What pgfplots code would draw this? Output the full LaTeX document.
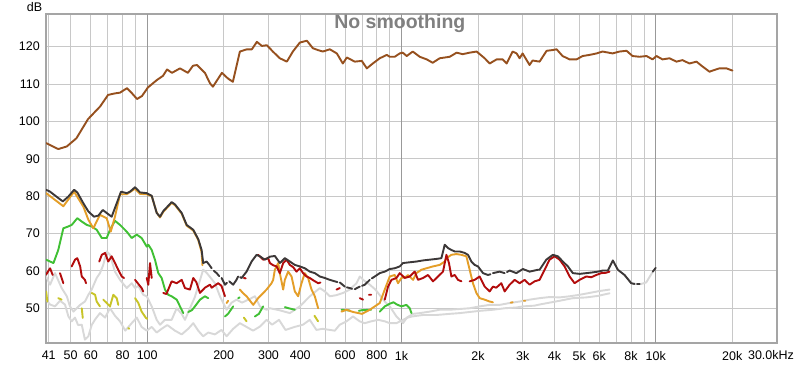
\documentclass[border=0pt]{standalone}
\usepackage{fontspec}
\setmainfont{Liberation Sans}
\usepackage{pgfplots}
\pgfplotsset{compat=1.18}
\definecolor{cbrown}{RGB}{150,80,30}
\definecolor{cblack}{RGB}{60,56,56}
\definecolor{corange}{RGB}{228,158,40}
\definecolor{cred}{RGB}{178,12,12}
\definecolor{cgreen}{RGB}{64,192,52}
\definecolor{cyellow}{RGB}{200,196,40}
\definecolor{cgray}{RGB}{216,216,216}
\definecolor{cgrid}{RGB}{200,200,200}
\definecolor{cframe}{RGB}{165,165,165}
\begin{document}
\begin{tikzpicture}
\useasboundingbox (0pt,0pt) rectangle (800pt,364pt);
\fill[white] (0pt,0pt) rectangle (800pt,364pt);
\begin{axis}[
  at={(46pt,21pt)}, anchor=south west,
  scale only axis, width=731pt, height=329pt,
  xmode=log, xmin=40, xmax=30000, ymin=40.7, ymax=128.75,
  unbounded coords=jump,
  axis line style={draw=cframe, line width=1.6},
  grid=major, major grid style={draw=cgrid, line width=0.8},
  major tick length=0pt,
  xtick={41,50,60,70,80,90,100,200,300,400,500,600,700,800,900,1000,2000,3000,4000,5000,6000,7000,8000,9000,10000,20000,30000},
  xticklabels={41,50,60,,80,,100,200,300,400,,600,,800,,1k,2k,3k,4k,5k,6k,,8k,,10k,20k,},
  ytick={50,60,70,80,90,100,110,120},
  yticklabels={50,60,70,80,90,100,110,120},
  extra x ticks={100,1000,10000}, extra x tick labels={},
  extra x tick style={grid=major, major grid style={draw=gray!80, line width=0.9}},
  ticklabel style={font=\fontsize{12.5}{14}\selectfont, inner sep=0pt},
  xticklabel style={anchor=north, yshift=-8pt},
  yticklabel style={anchor=east, xshift=-6pt},
  every axis plot/.append style={line width=1.9, line join=round, line cap=round, mark=none},
]
% light gray upper
\addplot[cgray] coordinates {(40.05,58.5)(41.5,56.3)(43.4,59.4)(46.1,55.4)(48.3,53.2)(49.7,50.5)(51.3,49.1)(54.5,50.9)(56.9,51.8)(58.7,53.6)(60.5,55.0)(63.3,58.1)(65.2,59.4)(67.2,61.6)(69.3,65.2)(71.4,64.3)(74.7,59.8)(78.2,57.6)(83.1,55.4)(86.9,56.7)(89.6,55.4)(92.3,56.0)(96.5,53.6)(99.6,53.2)(104.2,50.5)(109,46.9)(112.3,45.6)(117.5,46.9)(124.8,46.9)(130.6,50.0)(136.7,48.5)(140.8,46.9)(147.3,50)(154,53)(161.3,57.5)(166,60.3)(171.3,59.5)(184.7,56.7)(193.3,53.2)(205.3,49.6)(214.8,51.5)(224.7,52.3)(236,51.5)(253.5,52.5)(265.2,53.2)(277.5,50.5)(294.8,49.6)(303.8,50.0)(330,49.5)(364.1,48.7)(398.5,50.5)(436.2,53.2)(477.5,55.4)(499.6,54.5)(522.7,53.2)(555,53.5)(589.6,54.1)(626.6,55.0)(665.7,56.7)(685.9,58.5)(710,57.5)(750.9,56.3)(790,55.0)(821.8,53.5)(859.8,51.8)(899.6,50.5)(955.7,47.8)(1014.6,46.0)(1050,47.5)(1111,48.5)(1180,48.7)(1292,49.1)(1414,49.6)(1548,49.6)(1695,49.8)(1855,50.0)(2031,50.5)(2223,50.9)(2434,50.9)(2664,51.4)(2916,51.8)(3192,52.3)(3494,52.7)(3825,53.0)(4188,52.9)(4585,53.2)(5018,53.6)(5495,54.1)(6000,54.6)(6584,55.0)};
% light gray lower
\addplot[cgray] coordinates {(40.05,52.3)(41.5,51.0)(43.4,50.5)(45.4,52.0)(47.5,51.0)(49.0,47.8)(50.5,46.5)(52.0,47.5)(53.5,45.5)(55.3,45.6)(56.9,41.6)(58.7,42.5)(60.5,45.5)(62.4,47.0)(65.2,48.7)(68.3,47.5)(71.4,50.0)(74.7,48.0)(78.2,46.5)(82,44.0)(86.9,46.0)(91.0,47.5)(95.1,45.0)(99.6,44.0)(104.2,45.0)(109,43.5)(114,44.5)(120,45.5)(128.6,44.0)(136.7,43.0)(145,44.5)(151.8,46.0)(158.8,44.0)(166,42.5)(173.8,43.5)(184.7,43.0)(196,44.2)(205.3,42.5)(217.9,44.5)(231.5,46.0)(246,45.0)(261,44.0)(277.5,45.1)(294.8,46.9)(310,45.6)(330,46.9)(350,44.2)(380,45.0)(410,45.6)(436,46.9)(463,44.2)(490,44.5)(522.7,44.2)(547,44.0)(572,45.6)(608,46.5)(645,47.8)(685,46.5)(717,46.0)(760,46.5)(810,46.9)(860,46.5)(900,46.0)(955,46.0)(1014,46.9)(1060,47.5)(1100,47.8)(1216,48.2)(1373,48.2)(1548,48.5)(1695,48.7)(1855,49.0)(2031,49.3)(2290,49.6)(2547,50.0)(2830,50.2)(3004,50.5)(3339,50.7)(3494,51.0)(3825,51.5)(4188,52.0)(4723,52.7)(5333,52.9)(5924,53.3)(6584,54.0)};
% light gray high frequency
\addplot[cgray] coordinates {(7541,58.9)(8013,56.7)(8382,56.5)(8770,56.5)(9178,56.9)(9741,59.8)};
% yellow
\addplot[cyellow] coordinates {(40.05,54.5)(40.5,51.8)(41,nan)(44.7,52.7)(46.1,52.3)(47,nan)(55.3,50.0)(55.8,47.4)(57,nan)(60.5,54.1)(62.4,53.6)(63.3,51.8)(65.2,50.5)(66,nan)(67.2,52.3)(69.3,51.4)(71.4,50.5)(73.6,53.6)(75.9,52.7)(77.0,50.9)(80,nan)(84.3,44.7)(85,44.5)(87,nan)(89.6,52.7)(92.3,51.4)(95.1,49.1)(98.9,47.4)(100,47.2)(101,nan)(240,47.5)(246,46.5)(250,nan)(455,48.0)(470,46.5)};
% green
\addplot[cgreen] coordinates {(40.05,63.0)(41.5,62.5)(42.8,62.1)(44.7,65.6)(46.8,71.4)(49.0,71.9)(50.5,72.3)(53.1,74.1)(55.3,73.2)(57.9,72.3)(60.5,71.9)(63.3,71.0)(66.3,68.8)(69.3,68.8)(71.4,71.0)(74.7,73.4)(78.2,72.3)(83.1,70.5)(86.9,68.8)(91.0,69.7)(95.1,68.8)(99.6,66.5)(101,67.0)(104.2,65.6)(107.3,63.0)(110.6,59.4)(114,58.1)(117.5,55.0)(121,53.6)(124.8,53.2)(130.6,52.3)(134.6,50.5)(138.7,48.7)(141,nan)(145,49)(150,49.5)(154.1,50.5)(161.3,52.3)(168.7,53.2)(173.8,52.7)(180,nan)(202.2,47.8)(208,48.5)(217.9,50.5)(222,nan)(228,52.7)(231,52.9)(240,nan)(265.2,47.8)(275,48.5)(285.9,50.5)(300,nan)(347.9,50.3)(360,50.0)(380.9,49.6)(400,nan)(581.2,49.6)(600,49.5)(626.6,49.4)(650,nan)(680,49.3)(700,49.5)(760,49.6)(790,nan)(821.8,49.1)(859.8,50.5)(899.6,51.2)(930,51.6)(960,51.0)(1000,50.5)(1046,50.9)(1078,50.0)(1095,48.7)};
% orange
\addplot[corange] coordinates {(40.05,80.8)(46.8,77.3)(51.6,81.2)(56.1,77.2)(58.7,73.7)(61.4,71.4)(65.2,75.0)(69.3,74.1)(71.9,70.5)(74.7,74.5)(78.2,80.5)(83.1,80.5)(89.6,82.0)(93.7,80.6)(99.6,80.5)(104.2,80.0)(109,75.6)(112.3,74.3)(115.7,75.8)(124.8,78.2)(128.6,77.6)(136.7,75.3)(143,72.1)(151.8,70.8)(158.8,68.3)(163.7,65.0)(165,61.5)(167,nan)(205.3,51.4)(208.3,52.0)(215,nan)(231.5,55.0)(238.5,54.0)(246,53.2)(261.2,50.9)(273.2,52.7)(294.8,55.0)(308.5,56.7)(313,57.6)(317.8,60.3)(327.5,62.1)(332.5,59.4)(342.6,55.0)(347.9,57.6)(358.5,59.8)(369.7,58.5)(380.9,54.5)(392.5,53.2)(404.6,56.7)(416.9,59.4)(429.5,58.1)(442.9,55.0)(456.4,53.2)(470.3,50.0)(500,nan)(581.2,49.1)(608.1,49.6)(645.5,49.0)(700,48.5)(750.9,49.6)(821.8,51.4)(859.8,55.0)(899.6,58.5)(941.1,58.9)(969.7,56.7)(1000,58.1)(1046,58.5)(1061,58.9)(1111,57.6)(1145,59.4)(1198,60.3)(1254,60.7)(1331,61.2)(1414,61.6)(1480,62.5)(1503,63.4)(1572,64.3)(1645,64.5)(1721,64.3)(1801,63.9)(1855,60.3)(1911,56.7)(1971,54.1)(2031,52.7)(2125,52.3)(2223,51.8)(2290,51.6)(2400,nan)(2690,51.5)(2740,51.6)(2800,nan)(3030,52.0)(3070,52.0)};
% red
\addplot[cred] coordinates {(40.05,59.0)(41.5,60.7)(42.5,58.9)(43.5,nan)(45.4,59.4)(46.8,56.7)(48,nan)(50.5,61.2)(52.0,63.0)(53.1,63.4)(54.5,61.2)(55.3,58.5)(56.9,57.6)(57.5,56.7)(60,nan)(64.8,62.5)(66.3,64.3)(68.3,64.8)(70.3,62.5)(72.5,63.9)(74.7,62.1)(77.0,60.3)(79.4,58.5)(81.1,58.1)(85,nan)(89.6,57.6)(95.1,55.4)(96.5,54.5)(98,nan)(99.6,58.1)(101,56.3)(102.6,62.1)(104.2,58.1)(110,nan)(115.7,54.1)(119,53.8)(124.8,57.2)(130.6,56.7)(136.7,57.6)(140.8,55.4)(147.3,55.0)(151.8,58.1)(156,57)(161.3,54.1)(168.7,55.5)(176.6,56.3)(179.3,55.5)(190.3,56.7)(196,56)(202.2,53.2)(220,nan)(240,58.1)(244,58.0)(255,nan)(273.2,64.3)(285.9,63.0)(299.1,63.4)(303.8,62.1)(313,61.5)(322.7,61.2)(332.5,59.4)(342.6,62.1)(353.3,63.0)(364.1,61.6)(375,61.0)(386.8,59.8)(398.5,60.7)(410.5,59.4)(423.4,58.5)(436.2,58.1)(449.4,57.5)(470.3,56.7)(480,56.9)(500,nan)(555.5,55.0)(572.3,55.4)(600,nan)(685.9,52.7)(706.6,52.3)(720,nan)(745,53.6)(760,53.6)(800,nan)(859.8,52.3)(885.9,55.8)(913.6,57.6)(955.7,58.1)(984.7,59.4)(1030,58.1)(1078,58.5)(1111,59.4)(1128,59.8)(1162,57.6)(1216,58.1)(1272,58.9)(1331,57.2)(1393,58.5)(1457,59.8)(1503,64.3)(1538,62.1)(1572,58.5)(1620,58.9)(1669,57.6)(1721,57.2)(1780,nan)(1855,57.2)(1941,57.6)(2031,58.5)(2125,55.8)(2223,54.5)(2290,55.8)(2360,55.5)(2471,56.7)(2547,54.5)(2664,56.3)(2788,57.6)(2916,56.7)(3051,57.6)(3192,56.3)(3339,57.2)(3494,57.6)(3656,60.3)(3825,63.0)(4002,63.9)(4188,63.0)(4381,61.2)(4585,58.5)(4797,56.7)(5018,57.6)(5333,58.5)(5580,58.3)(5838,58.9)(6107,59.4)(6389,59.5)(6584,59.8)};
% black
\addplot[cblack] coordinates {(40.05,81.7)(41.5,81.2)(44.7,79.5)(46.6,78.6)(49.0,79.9)(51.6,81.7)(53.1,81.0)(56.1,78.1)(58.7,75.9)(61.8,74.5)(64.3,74.8)(66.9,76.3)(69.3,75.5)(72.5,74.5)(75.9,78.1)(78.9,81.2)(83.1,80.8)(85.6,81.2)(89.6,82.4)(93.7,81.0)(99.6,80.8)(104.2,80.1)(109.0,75.5)(112.3,74.5)(115.7,76.0)(124.8,78.4)(128.6,77.8)(136.7,75.5)(143,72.3)(151.8,71.0)(158.8,68.5)(163.7,65.6)(166.1,62.1)(171.3,62.5)(176,61.5)(179.3,60.7)(181,nan)(183,60)(187.6,59.4)(192,58.6)(194,nan)(196.2,58.1)(202.2,56.3)(206,56.8)(208,nan)(210.2,57.2)(217.9,56.3)(224,57.5)(228,58.5)(230,nan)(232,58.3)(235.1,58.1)(246,59.8)(257.4,62.5)(269.3,64.3)(277.5,63.9)(290.4,63.0)(303.8,63.8)(317.8,64.0)(332.5,62.1)(347.9,63.4)(364.1,62.5)(380.9,61.6)(398.5,61.2)(416.9,60.7)(436.2,59.8)(456.4,59.4)(477.5,58.5)(499.6,58.1)(522.7,57.6)(547,57.2)(560,57.0)(566,nan)(572.3,56.9)(598.8,55.8)(604,nan)(610,55.6)(626.6,55.4)(640,55.2)(648,nan)(655.5,55.1)(685.9,55.8)(693,nan)(700,56.0)(717.6,56.3)(750.9,57.6)(758,nan)(765,58.0)(785.6,58.5)(821.8,59.4)(859.8,59.8)(899.6,60.5)(941.1,60.7)(984.7,61.2)(1014.6,62.1)(1078,62.3)(1145,62.5)(1216,62.8)(1292,63.0)(1373,63.2)(1436,63.4)(1480,67.0)(1525,66.1)(1572,65.6)(1620,65.2)(1695,65.2)(1774,64.8)(1827,64.3)(1884,62.5)(1941,61.6)(2000,61.2)(2093,59.4)(2189,58.9)(2240,59.1)(2265,nan)(2290,59.4)(2434,59.8)(2547,59.4)(2575,nan)(2600,59.7)(2664,60.1)(2830,59.4)(3004,60.5)(3192,59.8)(3441,60.3)(3494,60.3)(3713,63.0)(3941,64.3)(4124,63.9)(4314,62.5)(4514,61.2)(4723,59.4)(5018,59.2)(5333,59.4)(5661,59.6)(5924,59.8)(6196,60.1)(6483,60.1)(6784,62.8)(7098,60.3)(7541,58.9)(8013,56.7)(8254,56.5)(8350,nan)(8450,56.5)(8650,56.5)(8760,nan)(9741,59.8)(10000,60.8)};
% brown
\addplot[cbrown] coordinates {(40.05,94.2)(44.7,92.6)(48.3,93.3)(52.7,95.5)(58.5,100.6)(65.3,104.0)(70.2,107.1)(74.7,107.5)(78.2,107.7)(83.3,108.9)(87.2,107.5)(91.2,106.0)(95.4,106.8)(100.7,109.1)(109.3,111.1)(115.4,112.2)(119.7,113.9)(125.2,113.0)(134.6,114.2)(144.6,113.0)(151.4,114.9)(157,115.1)(168.7,113.0)(176.6,110.2)(181.4,109.3)(196.8,113.0)(207.7,111.5)(217.3,110.6)(231.5,118.7)(246.7,119.3)(258.1,119.3)(270.1,121.3)(282.6,120.2)(295.6,120.4)(312.1,118.7)(332.5,116.9)(354.3,116.0)(374.1,118.7)(398.5,121.1)(424.6,121.6)(448.3,119.6)(469,119.1)(490.7,118.7)(522.7,119.3)(557,118.2)(588.1,115.5)(609.8,117.1)(655.6,116.0)(698.4,116.2)(730.8,114.2)(771.6,115.5)(821.8,116.9)(875.6,117.8)(899.6,117.3)(941.2,117.3)(984.7,118.2)(1012,118.4)(1049,117.5)(1108,118.7)(1180,117.3)(1257,116.6)(1327,115.7)(1414,116.9)(1548,117.3)(1649,118.4)(1741,118.0)(1855,118.4)(1976,118.7)(2125,116.9)(2223,115.5)(2368,116.6)(2501,116.6)(2593,115.5)(2737,118.7)(2838,118.2)(2916,116.9)(2996,118.2)(3192,115.1)(3280,116.3)(3494,116.0)(3724,118.9)(3931,119.1)(4076,119.3)(4303,117.5)(4585,116.6)(4885,116.6)(5157,117.5)(5495,117.8)(5853,118.2)(6180,118.7)(6767,118.2)(7209,118.7)(7680,118.9)(8109,117.5)(8639,117.3)(9204,117.5)(9716,116.6)(10074,117.5)(10636,116.6)(11330,116.9)(12070,116.0)(12744,116.4)(13580,115.5)(14465,116.0)(15277,114.7)(16273,113.3)(16720,113.6)(17813,114.2)(18975,114.2)(20037,113.6)};
\node[font=\bfseries\fontsize{19.5}{22}\selectfont, text={rgb,255:red,128;green,128;blue,128}, anchor=base] at (rel axis cs:0.484,0.957) {No smoothing};
\end{axis}
\node[font=\fontsize{12.5}{14}\selectfont, inner sep=0pt] at (34.5pt,357pt) {dB};
\node[font=\fontsize{12.5}{14}\selectfont, inner sep=0pt, anchor=north] at (771pt,14pt) {30.0kHz};
\end{tikzpicture}
\end{document}
